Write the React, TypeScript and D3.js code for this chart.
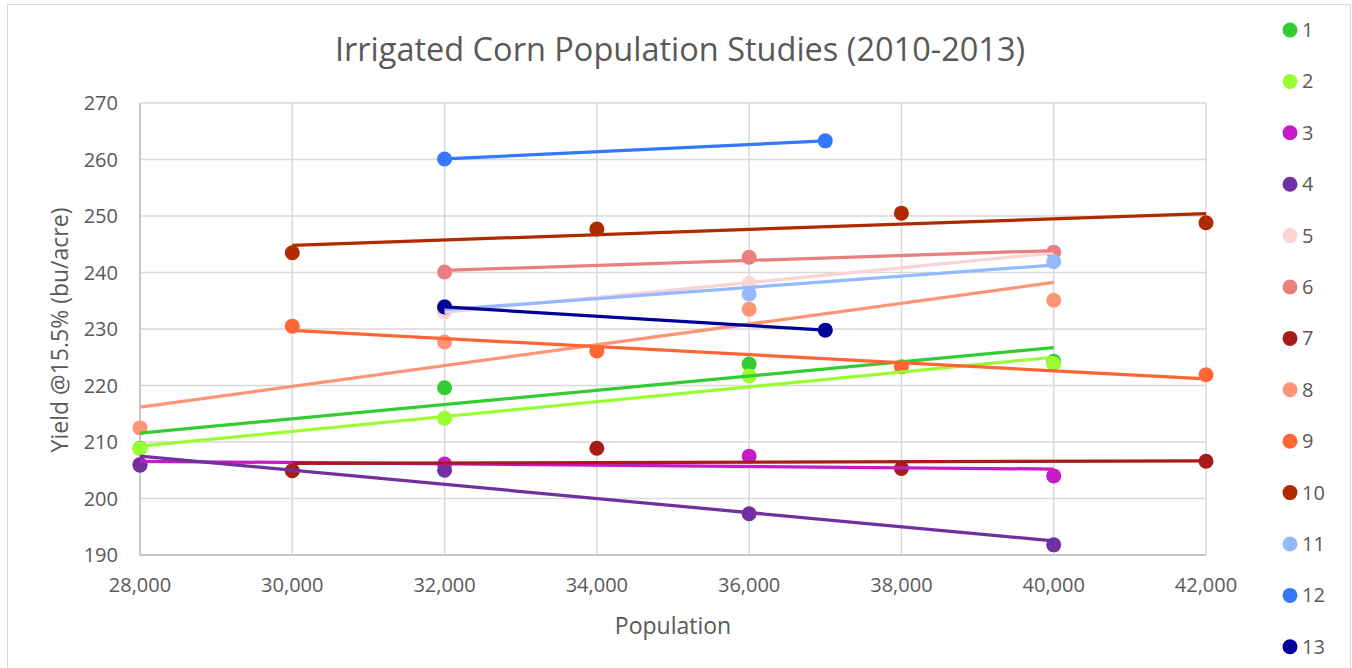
import React from "react";
import * as d3 from "d3";

const seriesNames = ["1", "2", "3", "4", "5", "6", "7", "8", "9", "10", "11", "12", "13"];
const seriesColors = [
  "#33CC33", "#99FF33", "#C61CC6", "#7030A0", "#F8D4D4", "#EB7F7F", "#A81B1B",
  "#FF9575", "#FF6633", "#B02A00", "#95B9FF", "#3378FF", "#000099",
];
const populations = [
  [28000, 32000, 36000, 40000],
  [28000, 32000, 36000, 40000],
  [28000, 32000, 36000, 40000],
  [28000, 32000, 36000, 40000],
  [32000, 36000, 40000],
  [32000, 36000, 40000],
  [30000, 34000, 38000, 42000],
  [28000, 32000, 36000, 40000],
  [30000, 34000, 38000, 42000],
  [30000, 34000, 38000, 42000],
  [32000, 36000, 40000],
  [32000, 37000],
  [32000, 37000],
];
const yields = [
  [208.9, 219.6, 223.8, 224.3],
  [208.8, 214.2, 221.7, 223.8],
  [206.0, 206.1, 207.5, 204.0],
  [205.9, 205.0, 197.3, 191.8],
  [233.0, 238.1, 243.5],
  [240.1, 242.7, 243.6],
  [204.9, 208.9, 205.3, 206.6],
  [212.5, 227.7, 233.5, 235.1],
  [230.5, 226.1, 223.3, 221.9],
  [243.5, 247.7, 250.5, 248.8],
  [234.0, 236.2, 241.9],
  [260.1, 263.3],
  [233.9, 229.8],
];
const xTicks = [28000, 30000, 32000, 34000, 36000, 38000, 40000, 42000];
const yTicks = [190, 200, 210, 220, 230, 240, 250, 260, 270];

const FONT = "'Open Sans', sans-serif";
const TEXT = "#595959";

function fit(xs: number[], ys: number[]) {
  const mx = d3.mean(xs) as number;
  const my = d3.mean(ys) as number;
  let num = 0, den = 0;
  xs.forEach((x, i) => { num += (x - mx) * (ys[i] - my); den += (x - mx) * (x - mx); });
  const b = num / den;
  const a = my - b * mx;
  return (x: number) => a + b * x;
}

export default function App() {
  const W = 1352, H = 668;
  const x = d3.scaleLinear().domain([28000, 42000]).range([140, 1206]);
  const y = d3.scaleLinear().domain([190, 270]).range([555, 103]);
  const fmt = d3.format(",");
  const line = d3.line<[number, number]>().x((d) => x(d[0])).y((d) => y(d[1]));

  return (
    <svg width={W} height={H} style={{ position: "absolute", left: 0, top: 0, background: "#fff" }}>
      <rect x={7.5} y={4.5} width={1343} height={680} fill="#fff" stroke="#d9d9d9" strokeWidth={1} />
      <text x={680} y={50} dy="0.35em" textAnchor="middle" fontFamily={FONT} fontSize={32.5} fill={TEXT}>
        Irrigated Corn Population Studies (2010-2013)
      </text>
      {yTicks.map((t) => (
        <line key={"gy" + t} x1={140} x2={1206} y1={y(t)} y2={y(t)} stroke="#d9d9d9" strokeWidth={1.5} />
      ))}
      {xTicks.map((t) => (
        <line key={"gx" + t} x1={x(t)} x2={x(t)} y1={103} y2={555} stroke="#d9d9d9" strokeWidth={1.5} />
      ))}
      <line x1={140} x2={140} y1={103} y2={555} stroke="#bfbfbf" strokeWidth={1.5} />
      <line x1={140} x2={1206} y1={555} y2={555} stroke="#bfbfbf" strokeWidth={1.5} />
      {yTicks.map((t) => (
        <text key={"ty" + t} x={118} y={y(t)} dy="0.35em" textAnchor="end" fontFamily={FONT} fontSize={20} fill={TEXT}>
          {t}
        </text>
      ))}
      {xTicks.map((t) => (
        <text key={"tx" + t} x={x(t)} y={585} dy="0.35em" textAnchor="middle" fontFamily={FONT} fontSize={20} fill={TEXT}>
          {fmt(t)}
        </text>
      ))}
      <text x={673} y={626} dy="0.35em" textAnchor="middle" fontFamily={FONT} fontSize={23} fill={TEXT}>
        Population
      </text>
      <text transform={`translate(60,330) rotate(-90)`} dy="0.35em" textAnchor="middle" fontFamily={FONT} fontSize={23} fill={TEXT}>
        Yield @15.5% (bu/acre)
      </text>
      {seriesNames.map((name, si) => (
        <g key={"p" + name}>
          {populations[si].map((p, i) => (
            <circle key={i} cx={x(p)} cy={y(yields[si][i])} r={7.5} fill={seriesColors[si]} />
          ))}
        </g>
      ))}
      {seriesNames.map((name, si) => {
        const f = fit(populations[si], yields[si]);
        const [x0, x1] = d3.extent(populations[si]) as [number, number];
        const pts: [number, number][] = [[x0, f(x0)], [x1, f(x1)]];
        return (
          <path key={"t" + name} d={line(pts) || ""} fill="none" stroke={seriesColors[si]} strokeWidth={3.25} />
        );
      })}
      {seriesNames.map((name, si) => {
        const ly = 30 + si * 51.4;
        return (
          <g key={"l" + name}>
            <circle cx={1290} cy={ly} r={7.5} fill={seriesColors[si]} />
            <text x={1302} y={ly} dy="0.35em" fontFamily={FONT} fontSize={20} fill={TEXT}>
              {name}
            </text>
          </g>
        );
      })}
    </svg>
  );
}
